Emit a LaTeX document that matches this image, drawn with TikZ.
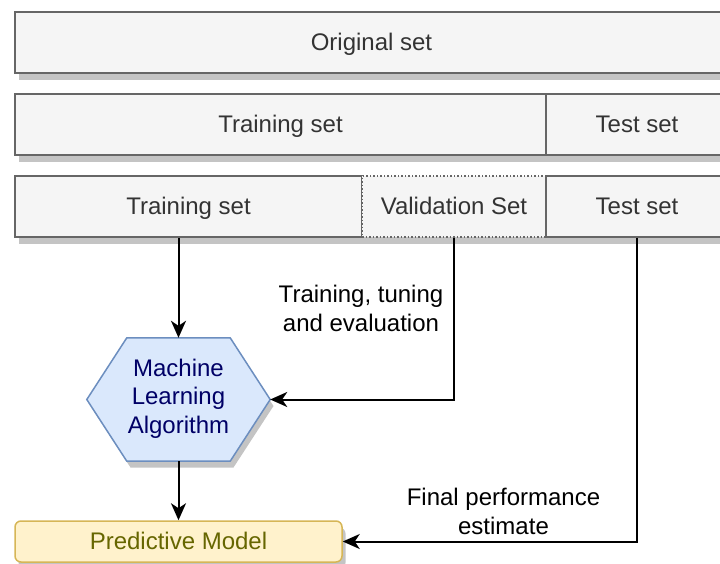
\documentclass[tikz,border=0pt]{standalone}
\usepackage{fontspec}
\setmainfont{Liberation Sans}
\usetikzlibrary{arrows.meta}
\definecolor{boxstroke}{HTML}{666666}
\definecolor{boxfill}{HTML}{F5F5F5}
\definecolor{boxtext}{HTML}{333333}
\definecolor{hexfill}{HTML}{DAE8FC}
\definecolor{hexstroke}{HTML}{6C8EBF}
\definecolor{hextext}{HTML}{000066}
\definecolor{pmfill}{HTML}{FFF2CC}
\definecolor{pmstroke}{HTML}{D6B656}
\definecolor{pmtext}{HTML}{666600}
\definecolor{shadowgray}{HTML}{C4C4C4}
\tikzset{
  txt/.style={font=\fontsize{24}{28.5}\selectfont},
  oneline/.style={text height=21.7pt, text depth=5.1pt},
  setbox/.style={txt, oneline, draw=boxstroke, fill=boxfill, text=boxtext, line width=1.5pt,
    minimum height=61pt, inner sep=0pt},
  conn/.style={line width=2pt, -{Stealth[length=17pt,width=15pt,inset=5pt]}},
  lbl/.style={txt, align=center, text=black, inner sep=0pt},
  shadowfill/.style={fill=shadowgray}
}
\begin{document}
\begin{tikzpicture}[x=1pt,y=-1pt]
\useasboundingbox (0,0) rectangle (720,563);
\clip (0,0) -- (720,0) -- (720,563) -- (0,563) -- cycle;
% shadows (offset 3.5 right, 6.5 down)
\fill[shadowfill] (18.5,18.5) -- (731.5,18.5) -- (731.5,79.5) -- (18.5,79.5) -- cycle;
\fill[shadowfill] (18.5,100.5) -- (731.5,100.5) -- (731.5,161.5) -- (18.5,161.5) -- cycle;
\fill[shadowfill] (18.5,182.5) -- (731.5,182.5) -- (731.5,243.5) -- (18.5,243.5) -- cycle;
\fill[shadowfill, rounded corners=6pt] (18.5,527.5) -- (345.5,527.5) -- (345.5,568.5) -- (18.5,568.5) -- cycle;
\fill[shadowfill] (90.5,406) -- (130.5,344.5) -- (233.5,344.5) -- (273.5,406) -- (233.5,467.5) -- (130.5,467.5) -- cycle;
% row 1
\node[setbox, minimum width=713pt] (orig) at (371.5,42.5) {Original set};
% row 2
\node[setbox, minimum width=531pt] (train2) at (280.5,124.5) {Training set};
\node[setbox, minimum width=182pt] (test2) at (637,124.5) {Test set};
% row 3
\node[setbox, minimum width=347pt] (train3) at (188.5,206.5) {Training set};
\node[setbox, minimum width=184pt, dotted] (val) at (454,206.5) {Validation Set};
\node[setbox, minimum width=182pt] (test3) at (637,206.5) {Test set};
% hexagon
\node[txt, align=center, text=hextext, minimum width=183pt, minimum height=123pt, inner sep=0pt] (mla) at (178.5,399.5) {};
\draw[fill=hexfill, draw=hexstroke, line width=1.5pt] (mla.west) -- ([xshift=40]mla.north west) -- ([xshift=-40]mla.north east)
  -- (mla.east) -- ([xshift=-40]mla.south east) -- ([xshift=40]mla.south west) -- cycle;
\node[txt, align=center, text=hextext, inner sep=0pt] (mlatext) at ([yshift=1]mla.center) {Machine\\Learning\\Algorithm};
% predictive model
\node[txt, oneline, draw=pmstroke, fill=pmfill, text=pmtext, line width=1.5pt, rounded corners=6pt,
  minimum width=327pt, minimum height=41pt, inner sep=0pt] (pm) at (178.5,541.5) {Predictive Model};
% connectors
\draw[conn] (mla.north |- train3.south) -- (mla.north);
\draw[conn] (val.south) |- (mla.east);
\draw[conn] (test3.south) |- (pm.east);
\draw[conn] (mla.south) -- (pm.north);
% labels
\node[lbl] (l1) at (361,308.5) {Training, tuning\\and evaluation};
\node[lbl] (l2) at (503.5,511.5) {Final performance\\estimate};
\end{tikzpicture}
\end{document}
